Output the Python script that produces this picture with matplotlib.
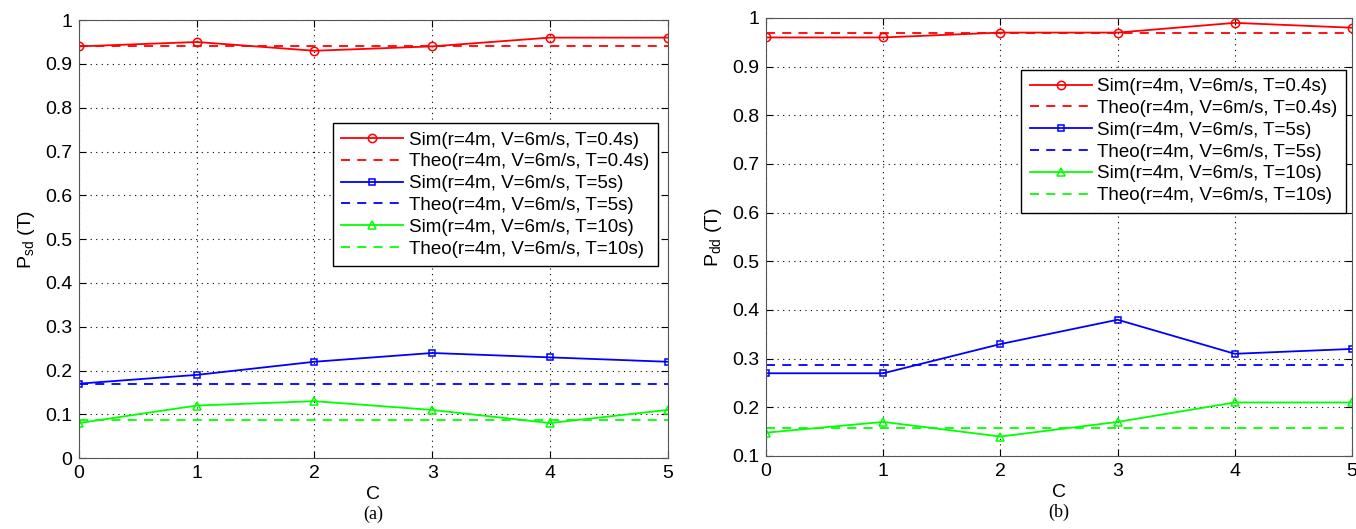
import matplotlib.pyplot as plt
import numpy as np

plt.rcParams['font.family'] = ['Liberation Sans', 'DejaVu Sans']
plt.rcParams['mathtext.fontset'] = 'custom'
plt.rcParams['mathtext.rm'] = 'Liberation Sans'

# data
C = [0, 1, 2, 3, 4, 5]
labels = ['Sim(r=4m, V=6m/s, T=0.4s)', 'Theo(r=4m, V=6m/s, T=0.4s)',
          'Sim(r=4m, V=6m/s, T=5s)', 'Theo(r=4m, V=6m/s, T=5s)',
          'Sim(r=4m, V=6m/s, T=10s)', 'Theo(r=4m, V=6m/s, T=10s)']

# (a) P_sd
sd_sim_04 = [0.94, 0.95, 0.93, 0.94, 0.96, 0.96]
sd_theo_04 = 0.94
sd_sim_5 = [0.17, 0.19, 0.22, 0.24, 0.23, 0.22]
sd_theo_5 = 0.17
sd_sim_10 = [0.08, 0.12, 0.13, 0.11, 0.08, 0.11]
sd_theo_10 = 0.087

# (b) P_dd
dd_sim_04 = [0.96, 0.96, 0.97, 0.97, 0.99, 0.98]
dd_theo_04 = 0.97
dd_sim_5 = [0.27, 0.27, 0.33, 0.38, 0.31, 0.32]
dd_theo_5 = 0.288
dd_sim_10 = [0.148, 0.17, 0.14, 0.17, 0.21, 0.21]
dd_theo_10 = 0.157

fig = plt.figure(figsize=(13.56, 5.29), dpi=100)
ax1 = fig.add_axes([0.0583, 0.134, 0.434, 0.828])
ax2 = fig.add_axes([0.565, 0.138, 0.432, 0.828])

red, blue, green = '#ff0000', '#0000ff', '#00ff00'


def draw(ax, sims, theos, ylim, yticks, ylabel, caption, leg_anchor):
    x = np.array(C)
    mk = ['o', 's', '^']
    ms = [6, 5, 6]
    cols = [red, blue, green]
    for i in range(3):
        ax.plot(x, sims[i], color=cols[i], marker=mk[i], markersize=ms[i],
                markerfacecolor='none', markeredgewidth=1.1, linewidth=1.3,
                label=labels[2 * i])
        ax.plot(x, np.full(len(x), theos[i]), color=cols[i], linestyle=(0, (5, 4)),
                linewidth=1.3, label=labels[2 * i + 1])
    ax.set_xlim(0, 5)
    ax.set_ylim(*ylim)
    ax.set_xticks(C)
    ax.set_yticks(yticks)
    ax.set_yticklabels([('%g' % v) for v in yticks])
    ax.grid(True, linestyle=(0, (1, 4)), color='black', linewidth=0.8)
    ax.tick_params(direction='in', top=True, right=True, labelsize=14, length=5, pad=5)
    ax.set_xlabel('C', fontsize=14, labelpad=3)
    ax.set_ylabel(ylabel, fontsize=14, labelpad=6)
    for s in ax.spines.values():
        s.set_color('#555555')
    leg = ax.legend(loc='upper right', bbox_to_anchor=leg_anchor, fontsize=13.5,
                    handlelength=3.3, labelspacing=0.25, borderpad=0.45,
                    fancybox=False, framealpha=1, edgecolor='black',
                    handletextpad=0.3, borderaxespad=0)
    leg.get_frame().set_linewidth(1.0)
    ax.text(0.5, -0.128, caption, transform=ax.transAxes, ha='center', va='center',
            fontsize=13, family='Liberation Serif')


draw(ax1, [sd_sim_04, sd_sim_5, sd_sim_10], [sd_theo_04, sd_theo_5, sd_theo_10],
     (0, 1), np.round(np.arange(0, 1.01, 0.1), 1), r'P$_{\mathrm{sd}}$ (T)', '(a)',
     (0.983, 0.765))
draw(ax2, [dd_sim_04, dd_sim_5, dd_sim_10], [dd_theo_04, dd_theo_5, dd_theo_10],
     (0.1, 1), np.round(np.arange(0.1, 1.01, 0.1), 1), r'P$_{\mathrm{dd}}$ (T)', '(b)',
     (0.99, 0.882))

fig.savefig('out.png', dpi=100)
